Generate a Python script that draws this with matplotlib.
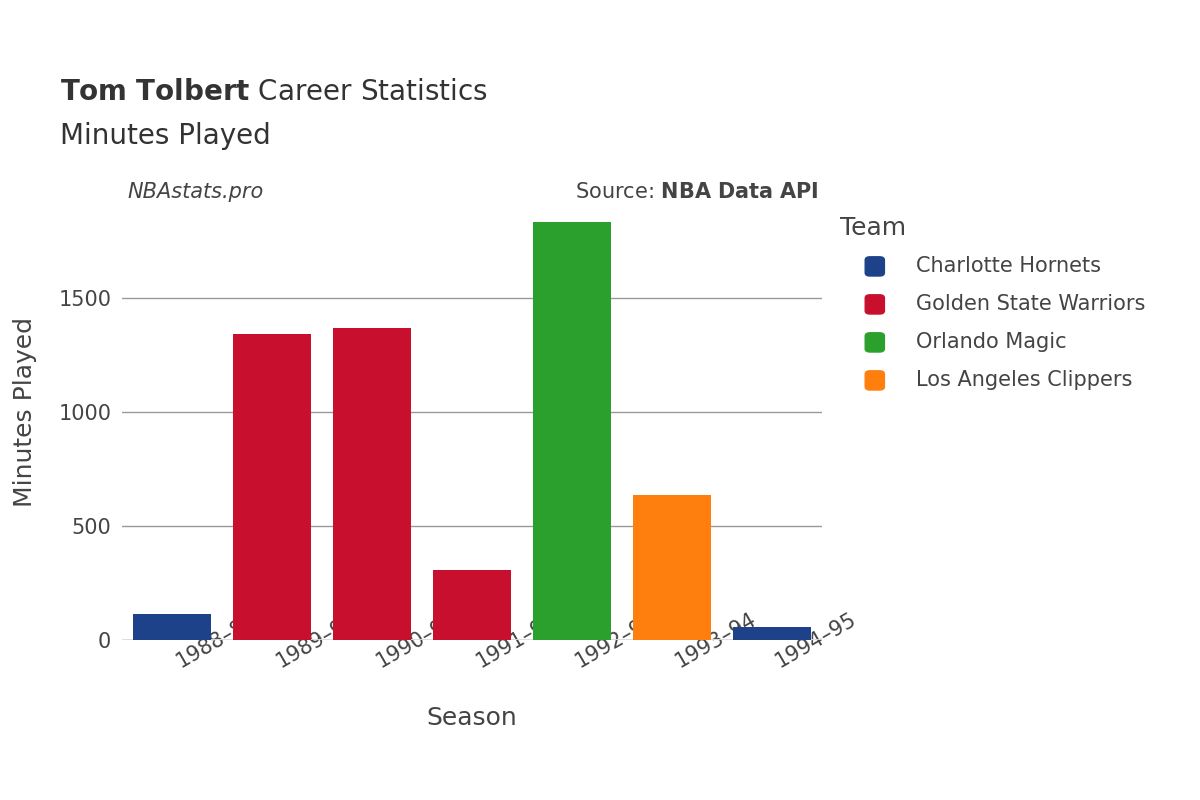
import matplotlib.pyplot as plt
from matplotlib.patches import FancyBboxPatch

seasons = ["1988–89", "1989–90", "1990–91", "1991–92", "1992–93", "1993–94", "1994–95"]
minutes = [114, 1342, 1368, 307, 1833, 636, 57]
teams = ["Charlotte Hornets", "Golden State Warriors", "Golden State Warriors",
         "Golden State Warriors", "Orlando Magic", "Los Angeles Clippers", "Charlotte Hornets"]
team_colors = {"Charlotte Hornets": "#1d428a", "Golden State Warriors": "#c8102e",
               "Orlando Magic": "#2ca02c", "Los Angeles Clippers": "#ff7f0e"}

fig = plt.figure(figsize=(12, 8), dpi=100)
ax = fig.add_axes([0.102, 0.2, 0.583, 0.57])
for i, (m, t) in enumerate(zip(minutes, teams)):
    ax.bar(i, m, width=0.78, color=team_colors[t], zorder=3)
ax.set_xlim(-0.5, 6.5)
ax.set_ylim(0, 2000)
ax.set_yticks([0, 500, 1000, 1500])
ax.set_xticks(range(len(seasons)))
ax.set_xticklabels(seasons, rotation=30, ha="left", rotation_mode="anchor", fontsize=15, color="#444")
ax.tick_params(axis="y", labelsize=15, labelcolor="#444", length=0, pad=8)
ax.tick_params(axis="x", length=0, pad=10)
ax.grid(axis="y", color="#999", linewidth=1, zorder=0)
for s in ax.spines.values():
    s.set_visible(False)
ax.axhline(0, color="#ddd", linewidth=2, zorder=2)
ax.set_xlabel("Season", fontsize=18, color="#444", labelpad=25)
ax.set_ylabel("Minutes Played", fontsize=18, color="#444", labelpad=15)

fig.text(0.05, 0.875, r"$\bf{Tom\ Tolbert}$ Career Statistics", fontsize=20, color="#333")
fig.text(0.05, 0.82, "Minutes Played", fontsize=20, color="#333")
fig.text(0.106, 0.752, "NBAstats.pro", fontsize=15, style="italic", color="#444")
fig.text(0.682, 0.752, r"Source: $\bf{NBA\ Data\ API}$", fontsize=15, color="#444", ha="right")

fig.text(0.7, 0.706, "Team", fontsize=18, color="#444")
for k, name in enumerate(team_colors):
    y = 0.667 - k * 0.0475
    fig.patches.append(FancyBboxPatch((0.721, y - 0.012), 0.016, 0.024,
                                      boxstyle="round,pad=0,rounding_size=0.004",
                                      transform=fig.transFigure, color=team_colors[name]))
    fig.text(0.763, y, name, fontsize=15, color="#444", va="center")

fig.savefig("out.png")
